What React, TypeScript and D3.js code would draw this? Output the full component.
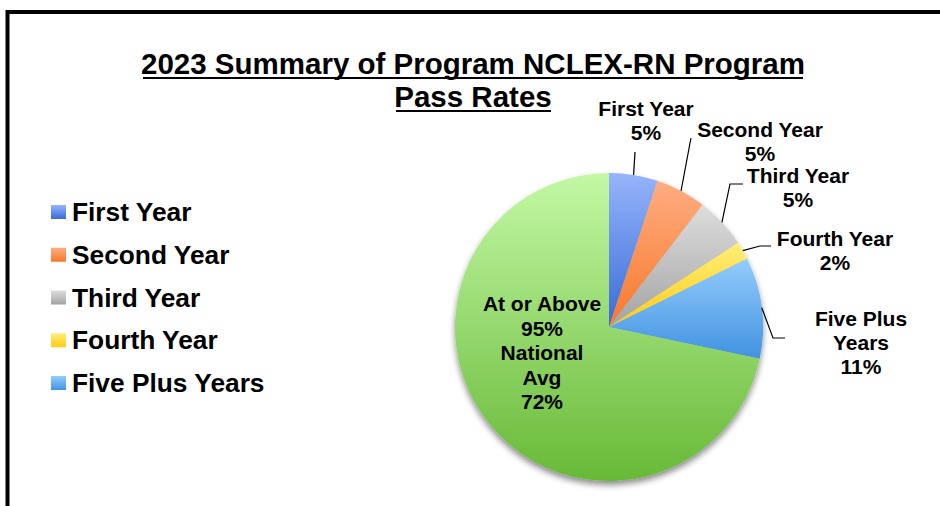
import React from "react";
import * as d3 from "d3";

const categories = ["First Year", "Second Year", "Third Year", "Fourth Year", "Five Plus Years", "At or Above 95% National Avg"];
const values = [5.1, 5.3, 5.4, 1.9, 10.6, 71.7];
const labelLines = [
  ["First Year"],
  ["Second Year"],
  ["Third Year"],
  ["Fourth Year"],
  ["Five Plus", "Years"],
  ["At or Above", "95%", "National", "Avg"],
];
const legendItems = ["First Year", "Second Year", "Third Year", "Fourth Year", "Five Plus Years"];
const titleLines = ["2023 Summary of Program NCLEX-RN Program", "Pass Rates"];

const gradTop = ["#96b4fb", "#ffad82", "#dddddd", "#ffee7a", "#93cdfc", "#c3f8a5"];
const gradBottom = ["#386bd6", "#f7782a", "#a3a3a3", "#ffcb15", "#4192e1", "#68b937"];

// layout for outside labels: text center x, first baseline y, leader waypoints after the arc point
const labelLayout = [
  { x: 646, y: 116, pts: [[635, 152]] },
  { x: 760, y: 137, pts: [[691, 138]] },
  { x: 798, y: 183, pts: [[730, 184], [743, 184]] },
  { x: 835, y: 246, pts: [[760, 246], [771, 246]] },
  { x: 861, y: 326, pts: [[773, 338], [785, 338]] },
  { x: 542, y: 311, pts: [] },
];

const W = 940;
const H = 506;
const cx = 609;
const cy = 327;
const R = 154;
const FONT = "'Liberation Sans', Arial, Helvetica, sans-serif";

export default function App() {
  const pie = d3.pie<number>().sort(null).value((d) => d)(values);
  const arc = d3.arc<d3.PieArcDatum<number>>().innerRadius(0).outerRadius(R);
  const fmt = (v: number) => `${Math.round(v)}%`;

  return (
    <svg width={W} height={H} style={{ position: "absolute", left: 0, top: 0, background: "#fff" }}>
      <defs>
        {values.map((_, i) => (
          <linearGradient key={i} id={`g${i}`} x1="0" y1="0" x2="0" y2="1">
            <stop offset="0" stopColor={gradTop[i]} />
            <stop offset="1" stopColor={gradBottom[i]} />
          </linearGradient>
        ))}
        <filter id="shadow" x="-20%" y="-20%" width="140%" height="140%">
          <feDropShadow dx="0" dy="4" stdDeviation="3" floodColor="#000" floodOpacity="0.45" />
        </filter>
      </defs>
      <rect x={0} y={0} width={W} height={H} fill="#fff" />
      <rect x={7.5} y={12} width={W + 20} height={H + 20} fill="none" stroke="#000" strokeWidth={4} />

      {titleLines.map((t, i) => (
        <g key={i}>
          <text
            x={473}
            y={74 + i * 33}
            textAnchor="middle"
            fontFamily={FONT}
            fontWeight="bold"
            fontSize={29.5}
            fill="#000"
          >
            {t}
          </text>
        </g>
      ))}
      <line x1={143} x2={803} y1={78} y2={78} stroke="#000" strokeWidth={2.2} />
      <line x1={396} x2={551} y1={111} y2={111} stroke="#000" strokeWidth={2.2} />

      {legendItems.map((t, i) => {
        const y = 212 + i * 42.75;
        return (
          <g key={t}>
            <rect x={51} y={y - 7} width={15} height={14} fill={`url(#g${i})`} />
            <text x={72} y={y + 9} fontFamily={FONT} fontWeight="bold" fontSize={26.3} fill="#000">
              {t}
            </text>
          </g>
        );
      })}

      <g transform={`translate(${cx},${cy})`} filter="url(#shadow)">
        {pie.map((p, i) => (
          <path key={i} d={arc(p) || ""} fill={`url(#g${i})`} />
        ))}
      </g>

      {pie.map((p, i) => {
        const lay = labelLayout[i];
        const mid = (p.startAngle + p.endAngle) / 2;
        const ax = cx + R * Math.sin(mid);
        const ay = cy - R * Math.cos(mid);
        const lines = [...labelLines[i], fmt(values[i])];
        const inside = lay.pts.length === 0;
        const lh = inside ? 24.5 : 24;
        return (
          <g key={`l${i}`}>
            {!inside && (
              <polyline
                points={[[ax, ay], ...lay.pts].map((q) => q.join(",")).join(" ")}
                fill="none"
                stroke="#000"
                strokeWidth={1.2}
              />
            )}
            <text textAnchor="middle" fontFamily={FONT} fontWeight="bold" fontSize={21} fill="#000">
              {lines.map((l, j) => (
                <tspan key={j} x={lay.x} y={lay.y + j * lh}>
                  {l}
                </tspan>
              ))}
            </text>
          </g>
        );
      })}
    </svg>
  );
}
